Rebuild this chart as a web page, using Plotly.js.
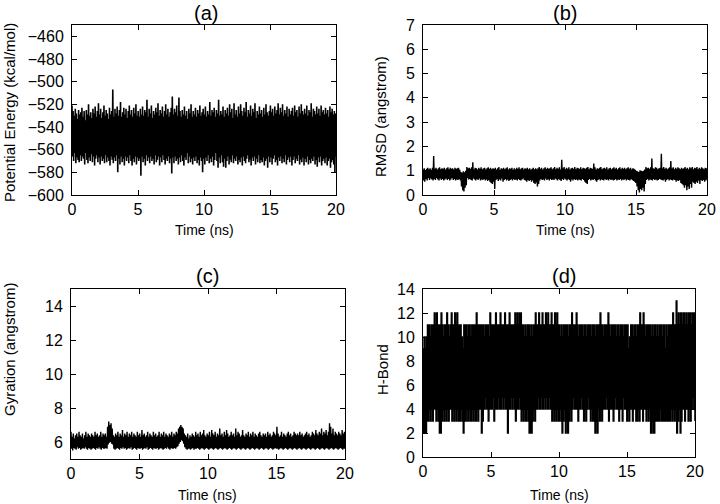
<!DOCTYPE html>
<html>
<head>
<meta charset="utf-8">
<script src="https://cdn.plot.ly/plotly-3.0.1.min.js"></script>
<style>html,body{margin:0;padding:0;background:#fff;}#chart{width:720px;height:504px;}</style>
</head>
<body>
<div id="chart"></div>
<script>
// Simulation time span (ns); samples are evenly spaced across it
const timeStart = 0;
const timeEnd = 20;

// (a) Potential energy (kcal/mol), read as alternating upper/lower excursions
const potentialEnergy = [
-521,-566,-526,-570,-530,-563,-524,-572,-528,-567,-533,-569,-525,-571,-529,-565,-527,-570,-523,-566,
-531,-568,-526,-573,-534,-563,-525,-569,-529,-572,-520,-567,-530,-570,-527,-564,-532,-571,-524,-566,
-528,-574,-522,-568,-531,-565,-526,-571,-519,-567,-529,-573,-524,-566,-532,-570,-527,-568,-521,-572,
-530,-565,-525,-571,-528,-567,-533,-570,-523,-574,-529,-566,-526,-569,-507,-572,-531,-567,-524,-570,
-528,-565,-522,-580,-530,-568,-525,-573,-518,-566,-531,-571,-527,-568,-523,-574,-529,-566,-524,-570,
-532,-567,-526,-572,-521,-565,-529,-570,-525,-574,-531,-568,-523,-571,-528,-566,-520,-573,-530,-567,
-526,-570,-531,-568,-524,-583,-529,-566,-522,-571,-530,-568,-525,-574,-527,-565,-516,-570,-531,-567,
-524,-572,-528,-566,-521,-570,-532,-568,-526,-573,-529,-565,-523,-571,-527,-569,-519,-566,-530,-574,
-525,-567,-528,-571,-522,-565,-531,-569,-526,-573,-520,-568,-529,-570,-524,-566,-531,-572,-527,-568,
-523,-581,-513,-567,-529,-572,-524,-566,-527,-570,-521,-568,-530,-573,-514,-567,-526,-571,-531,-565,
-525,-570,-529,-574,-522,-567,-530,-569,-526,-563,-533,-572,-524,-566,-528,-571,-520,-568,-531,-573,
-526,-567,-529,-570,-523,-566,-531,-572,-525,-569,-528,-574,-521,-567,-530,-570,-527,-580,-524,-568,
-529,-573,-522,-567,-531,-570,-526,-565,-529,-572,-518,-568,-530,-571,-525,-566,-527,-574,-523,-569,
-531,-563,-525,-570,-528,-576,-516,-567,-530,-572,-526,-565,-529,-571,-522,-575,-531,-568,-525,-576,
-528,-570,-523,-566,-530,-573,-520,-569,-527,-571,-524,-565,-532,-572,-519,-568,-529,-570,-525,-566,
-531,-573,-522,-569,-528,-571,-520,-567,-526,-574,-530,-566,-523,-570,-527,-572,-518,-568,-531,-565,
-525,-571,-528,-569,-521,-574,-530,-567,-524,-570,-527,-566,-519,-573,-532,-568,-526,-571,-529,-565,
-522,-572,-528,-569,-525,-571,-531,-567,-523,-574,-529,-570,-520,-568,-527,-576,-530,-566,-526,-571,
-521,-567,-527,-573,-524,-568,-530,-565,-522,-571,-528,-569,-525,-574,-519,-567,-529,-570,-523,-566,
-527,-572,-520,-568,-530,-571,-525,-565,-528,-573,-522,-569,-531,-567,-524,-571,-529,-566,-526,-574,
-523,-569,-530,-566,-521,-572,-527,-568,-525,-570,-531,-565,-522,-573,-528,-569,-520,-571,-526,-567,
-529,-574,-524,-568,-528,-571,-521,-566,-530,-573,-525,-569,-527,-572,-519,-568,-531,-570,-524,-566,
-526,-573,-529,-569,-522,-575,-528,-567,-524,-571,-530,-566,-521,-574,-527,-570,-525,-568,-529,-572,
-523,-567,-528,-574,-525,-570,-531,-568,-522,-576,-527,-571,-524,-569,-529,-573,-526,-580,-528,-566
];

// (b) RMSD (angstrom)
const rmsd = [
1.05,0.60,1.10,0.55,1.00,0.66,1.08,0.60,1.12,0.70,1.06,0.62,1.10,0.68,1.04,0.64,1.12,0.60,1.60,0.66,
1.08,0.62,1.12,0.70,1.05,0.64,1.10,0.60,1.14,0.68,1.06,0.62,1.10,0.66,1.08,0.60,1.12,0.64,1.05,0.68,
1.10,0.62,1.14,0.66,1.06,0.60,1.12,0.64,1.08,0.70,1.10,0.62,1.05,0.66,1.12,0.60,1.08,0.64,1.10,0.62,
1.12,0.66,1.04,0.60,0.95,0.35,0.92,0.20,0.98,0.15,0.94,0.30,1.00,0.40,1.15,0.70,1.10,0.64,1.12,0.66,
1.08,0.62,1.14,0.60,1.35,0.68,1.06,0.64,1.12,0.60,1.10,0.66,1.05,0.62,1.12,0.68,1.08,0.60,1.14,0.64,
1.06,0.62,1.10,0.66,1.12,0.60,1.05,0.64,1.10,0.58,1.14,0.62,1.08,0.55,1.12,0.50,1.06,0.45,1.10,0.55,
1.08,0.25,1.12,0.62,1.05,0.66,1.10,0.58,1.15,0.64,1.04,0.60,1.10,0.68,1.08,0.55,1.12,0.62,1.06,0.66,
1.10,0.60,1.14,0.64,1.05,0.58,1.10,0.62,1.08,0.65,1.12,0.60,1.04,0.66,1.10,0.62,1.06,0.64,1.12,0.60,
1.08,0.66,1.14,0.62,1.06,0.60,1.10,0.64,1.12,0.68,1.05,0.62,1.10,0.60,1.08,0.55,1.12,0.62,1.06,0.58,
1.10,0.62,1.04,0.55,1.08,0.60,1.12,0.50,1.06,0.45,1.10,0.52,1.06,0.35,1.10,0.45,1.15,0.60,1.08,0.66,
1.12,0.62,1.05,0.64,1.10,0.60,1.14,0.68,1.07,0.62,1.12,0.65,1.08,0.60,1.10,0.66,1.14,0.62,1.06,0.64,
1.10,0.62,1.15,0.68,1.06,0.64,1.12,0.60,1.08,0.66,1.14,0.62,1.05,0.58,1.45,0.66,1.10,0.62,1.15,0.68,
1.06,0.64,1.12,0.60,1.08,0.66,1.14,0.62,1.05,0.55,1.10,0.64,1.12,0.60,1.08,0.66,1.15,0.62,1.06,0.64,
1.12,0.60,1.10,0.64,1.08,0.62,1.14,0.60,1.06,0.66,1.12,0.62,1.10,0.55,1.08,0.50,1.12,0.45,1.15,0.62,
1.06,0.66,1.12,0.60,1.10,0.64,1.08,0.62,1.30,0.66,1.14,0.60,1.05,0.55,1.10,0.62,1.08,0.66,1.12,0.60,
1.15,0.64,1.06,0.62,1.10,0.60,1.12,0.66,1.08,0.62,1.14,0.64,1.05,0.60,1.10,0.66,1.12,0.62,1.06,0.64,
1.10,0.60,1.14,0.62,1.08,0.66,1.12,0.60,1.05,0.64,1.10,0.62,1.14,0.66,1.06,0.60,1.12,0.64,1.08,0.62,
1.12,0.66,1.06,0.60,1.10,0.64,1.14,0.62,1.08,0.60,1.12,0.66,1.05,0.62,1.10,0.58,1.08,0.55,1.04,0.50,
1.00,0.35,0.98,0.20,0.95,0.10,1.02,0.25,1.00,0.20,0.98,0.30,1.00,0.15,1.05,0.45,1.15,0.62,1.10,0.66,
1.12,0.60,1.08,0.64,1.14,0.62,1.50,0.60,1.10,0.66,1.08,0.62,1.14,0.64,1.12,0.60,1.06,0.62,1.10,0.66,
1.12,0.64,1.70,0.62,1.10,0.60,1.15,0.64,1.08,0.55,1.12,0.62,1.06,0.66,1.10,0.60,1.14,0.64,1.40,0.62,
1.10,0.60,1.14,0.64,1.06,0.62,1.12,0.55,1.08,0.60,1.14,0.58,1.10,0.62,1.06,0.50,1.12,0.45,1.08,0.40,
1.10,0.30,1.15,0.40,1.08,0.20,1.12,0.35,1.06,0.25,1.14,0.45,1.10,0.30,1.15,0.55,1.06,0.50,1.12,0.45,
1.10,0.55,1.15,0.50,1.06,0.60,1.12,0.45,1.08,0.62,1.14,0.58,1.10,0.62,1.06,0.55,1.12,0.60,1.10,0.64
];

// (c) Radius of gyration (angstrom)
const gyration = [
6.6,5.6,6.3,5.5,6.5,5.65,6.2,5.6,6.4,5.55,6.5,5.7,6.3,5.6,6.6,5.65,6.4,5.55,6.3,5.6,
6.5,5.65,6.2,5.6,6.4,5.7,6.6,5.6,6.3,5.55,6.5,5.65,6.4,5.6,6.3,5.55,6.5,5.6,6.4,5.65,
6.3,5.6,6.6,5.55,6.4,5.65,6.5,5.6,6.3,5.7,6.4,5.6,6.6,5.55,6.3,5.65,6.5,5.6,6.4,5.6,
6.5,5.65,6.3,5.6,6.9,5.85,7.2,5.95,7.0,6.0,7.1,5.9,6.8,5.85,6.4,5.6,6.3,5.55,6.5,5.6,
6.4,5.65,6.6,5.6,6.3,5.55,6.5,5.65,6.4,5.6,6.7,5.7,6.3,5.6,6.5,5.65,6.4,5.55,6.6,5.6,
6.3,5.65,6.5,5.6,6.4,5.7,6.6,5.55,6.3,5.6,6.5,5.65,6.4,5.6,6.3,5.55,6.6,5.65,6.4,5.6,
6.5,5.6,6.3,5.65,6.7,5.55,6.4,5.6,6.5,5.65,6.3,5.6,6.4,5.7,6.6,5.55,6.3,5.6,6.5,5.65,
6.4,5.6,6.3,5.55,6.6,5.65,6.4,5.6,6.5,5.6,6.3,5.65,6.4,5.55,6.6,5.6,6.3,5.65,6.5,5.6,
6.4,5.55,6.6,5.6,6.3,5.65,6.5,5.6,6.4,5.7,6.3,5.6,6.5,5.55,6.4,5.65,6.6,5.6,6.3,5.6,
6.5,5.65,6.4,5.6,6.6,5.7,6.5,5.75,6.8,5.9,6.9,6.0,7.0,6.1,6.9,6.05,6.8,5.9,6.5,5.7,
6.4,5.6,6.3,5.55,6.5,5.6,6.2,5.6,6.4,5.55,6.3,5.6,6.5,5.65,6.4,5.55,6.3,5.6,6.6,5.6,
6.4,5.65,6.5,5.6,6.3,5.55,6.6,5.6,6.4,5.65,6.5,5.6,6.7,5.55,6.4,5.6,6.3,5.65,6.5,5.6,
6.4,5.55,6.6,5.6,6.3,5.65,6.7,5.6,6.5,5.55,6.4,5.6,6.6,5.65,6.3,5.6,6.5,5.55,6.4,5.6,
6.8,5.65,6.4,5.6,6.5,5.55,6.3,5.6,6.6,5.65,6.4,5.6,6.7,5.55,6.5,5.6,6.3,5.65,6.4,5.6,
6.6,5.55,6.4,5.6,6.5,5.65,6.3,5.6,6.8,5.55,6.4,5.6,6.6,5.65,6.5,5.6,6.3,5.55,6.4,5.6,
6.7,5.65,6.4,5.6,6.3,5.55,6.5,5.6,6.4,5.65,6.6,5.6,6.3,5.55,6.5,5.6,6.4,5.65,6.6,5.6,
6.3,5.55,6.5,5.6,6.4,5.65,6.3,5.6,6.5,5.55,6.6,5.6,6.4,5.65,6.3,5.6,6.5,5.55,6.4,5.6,
6.5,5.65,6.3,5.6,6.6,5.55,6.4,5.6,6.5,5.65,6.3,5.6,6.4,5.55,6.6,5.6,6.5,5.65,6.4,5.6,
6.9,5.6,6.5,5.55,6.3,5.6,6.4,5.65,6.6,5.6,6.3,5.55,6.5,5.6,6.4,5.65,6.3,5.6,6.5,5.55,
6.6,5.6,6.4,5.65,6.5,5.6,6.3,5.55,6.4,5.6,6.6,5.65,6.5,5.6,6.4,5.55,6.5,5.6,6.4,5.65,
6.6,5.6,6.4,5.55,6.5,5.6,6.3,5.65,6.4,5.6,6.5,5.55,6.6,5.6,6.4,5.65,6.5,5.6,6.3,5.55,
6.4,5.6,6.6,5.65,6.5,5.6,6.4,5.55,6.7,5.6,6.5,5.65,6.4,5.6,6.6,5.55,6.5,5.6,6.8,5.65,
6.4,5.6,6.6,5.55,6.5,5.6,6.7,5.65,6.4,5.6,6.6,5.55,7.1,5.6,6.9,5.65,6.5,5.6,6.8,5.55,
6.4,5.6,6.6,5.65,6.5,5.6,6.4,5.55,6.6,5.6,6.5,5.65,6.4,5.6,6.7,5.55,6.5,5.6,6.6,5.6
];

// (d) Number of hydrogen bonds
const hbonds = [
9,2,10,2,9,2,10,3,11,3,11,4,10,3,11,4,11,3,11,4,
12,4,11,3,12,4,11,3,11,2,11,2,12,3,11,4,10,3,11,4,
11,3,12,4,11,3,10,4,11,4,12,3,11,4,11,3,12,4,11,3,
12,4,11,3,11,3,11,4,10,3,9,2,11,3,11,3,11,4,10,3,
11,4,11,3,10,3,11,4,11,3,11,4,11,3,12,4,11,3,11,4,
11,4,11,2,11,3,11,4,10,5,11,4,11,4,11,3,10,4,12,4,
11,4,11,5,11,3,11,4,12,4,11,4,11,5,11,4,12,4,11,5,
11,4,11,5,12,4,11,4,11,2,11,4,12,4,11,5,11,4,11,5,
11,4,12,3,11,4,12,4,11,5,12,4,12,3,11,4,11,3,10,4,
11,3,10,4,11,3,11,2,10,2,11,2,10,3,11,4,11,3,12,4,
11,4,11,5,12,4,11,4,11,5,12,4,11,5,11,4,12,5,11,4,
12,4,11,5,11,4,12,3,11,4,11,3,12,4,11,3,12,4,11,3,
11,4,10,3,11,2,10,3,11,4,11,2,11,3,11,2,10,3,11,4,
11,3,12,4,11,5,11,4,11,4,12,4,11,3,10,4,11,4,11,5,
11,4,10,3,11,4,11,3,10,4,11,5,11,4,11,3,10,4,11,3,
11,3,11,2,10,3,11,2,11,4,11,3,12,4,11,3,11,4,10,4,
11,4,11,5,11,4,12,3,11,4,10,4,11,4,11,3,11,4,11,5,
10,4,11,4,11,3,10,4,11,4,11,3,10,5,11,4,11,4,11,3,
11,4,9,3,10,4,11,4,11,3,10,4,11,4,11,3,10,3,11,4,
11,3,12,4,11,4,11,3,12,4,11,4,10,3,11,4,11,3,11,4,
11,2,10,3,11,2,10,2,11,3,10,3,11,3,10,3,11,4,11,3,
11,3,10,3,11,3,9,3,11,3,10,3,11,3,11,3,11,4,11,3,
12,4,11,3,11,4,13,2,11,3,12,4,11,2,12,3,11,4,12,4,
12,3,11,4,12,4,11,3,12,4,12,3,11,4,12,5,12,4,12,3
];

// Axis tick settings
const energyTicks = {range: [-600, -450], dtick: 20};
const rmsdTicks = {range: [0, 7], dtick: 1};
const gyrationTicks = {range: [5, 15], dtick: 2};
const hbondTicks = {range: [0, 14], dtick: 2};
const timeTicks = {range: [0, 20], dtick: 5};

const W = 720, H = 504;
const FONT = 'Liberation Sans, Arial, Helvetica, sans-serif';

function trace(y, xa, ya, width, shape) {
  return {
    y: y, x0: timeStart, dx: (timeEnd - timeStart) / (y.length - 1),
    xaxis: xa, yaxis: ya, type: 'scatter', mode: 'lines',
    line: {color: '#000', width: width, shape: shape || 'linear'},
    hoverinfo: 'skip', showlegend: false
  };
}

function px(x) { return x / W; }
function py(y) { return 1 - y / H; }

function axisBase(extra) {
  return Object.assign({
    showline: true, linecolor: '#000', linewidth: 1, mirror: 'allticks',
    ticks: 'inside', ticklen: 5, tickwidth: 1, tickcolor: '#000',
    showgrid: false, zeroline: false,
    tickfont: {family: FONT, size: 16, color: '#000'},
    fixedrange: true
  }, extra);
}

const panels = [
  {x: [72, 336], y: [25, 195]},
  {x: [423, 707], y: [25, 195]},
  {x: [71, 345], y: [289, 459]},
  {x: [423, 695], y: [289, 457]}
];

const layout = {
  width: W, height: H,
  margin: {l: 0, r: 0, t: 0, b: 0},
  paper_bgcolor: '#fff', plot_bgcolor: '#fff',
  font: {family: FONT, color: '#000'},
  showlegend: false,
  annotations: []
};

const yTicks = [energyTicks, rmsdTicks, gyrationTicks, hbondTicks];
panels.forEach((p, i) => {
  const n = i === 0 ? '' : String(i + 1);
  layout['xaxis' + n] = axisBase({
    domain: [px(p.x[0]), px(p.x[1])], anchor: 'y' + n,
    range: timeTicks.range, dtick: timeTicks.dtick, tick0: 0,
    ticklabelstandoff: 0
  });
  layout['yaxis' + n] = axisBase({
    domain: [py(p.y[1]), py(p.y[0])], anchor: 'x' + n,
    range: yTicks[i].range, dtick: yTicks[i].dtick, tick0: 0,
    ticklabelstandoff: 4
  });
});

const panelTitles = ['(a)', '(b)', '(c)', '(d)'];
const titleCenters = [[206, 13], [565, 13], [208, 276], [564, 276]];
panelTitles.forEach((t, i) => {
  layout.annotations.push({
    text: t, xref: 'paper', yref: 'paper',
    x: px(titleCenters[i][0]), y: py(titleCenters[i][1]),
    xanchor: 'center', yanchor: 'middle', showarrow: false,
    font: {family: FONT, size: 20, color: '#000'}
  });
});

const xTitleCenters = [[204, 230], [565, 230], [208, 495], [559, 495]];
xTitleCenters.forEach(c => {
  layout.annotations.push({
    text: 'Time (ns)', xref: 'paper', yref: 'paper',
    x: px(c[0]), y: py(c[1]), xanchor: 'center', yanchor: 'middle',
    showarrow: false, font: {family: FONT, size: 14, color: '#000'}
  });
});

const yTitles = ['Potential Energy (kcal/mol)', 'RMSD (angstrom)', 'Gyration (angstrom)', 'H-Bond'];
const yTitleCenters = [[10, 113], [380, 117], [9, 350], [382, 370]];
yTitles.forEach((t, i) => {
  layout.annotations.push({
    text: t, xref: 'paper', yref: 'paper', textangle: -90,
    x: px(yTitleCenters[i][0]), y: py(yTitleCenters[i][1]),
    xanchor: 'center', yanchor: 'middle', showarrow: false,
    font: {family: FONT, size: 15, color: '#000'}
  });
});

const data = [
  trace(potentialEnergy, 'x', 'y', 1.6),
  trace(rmsd, 'x2', 'y2', 1.4),
  trace(gyration, 'x3', 'y3', 1.4),
  trace(hbonds, 'x4', 'y4', 1.6, 'hv')
];

Plotly.newPlot('chart', data, layout, {staticPlot: true, displayModeBar: false});
</script>
</body>
</html>
